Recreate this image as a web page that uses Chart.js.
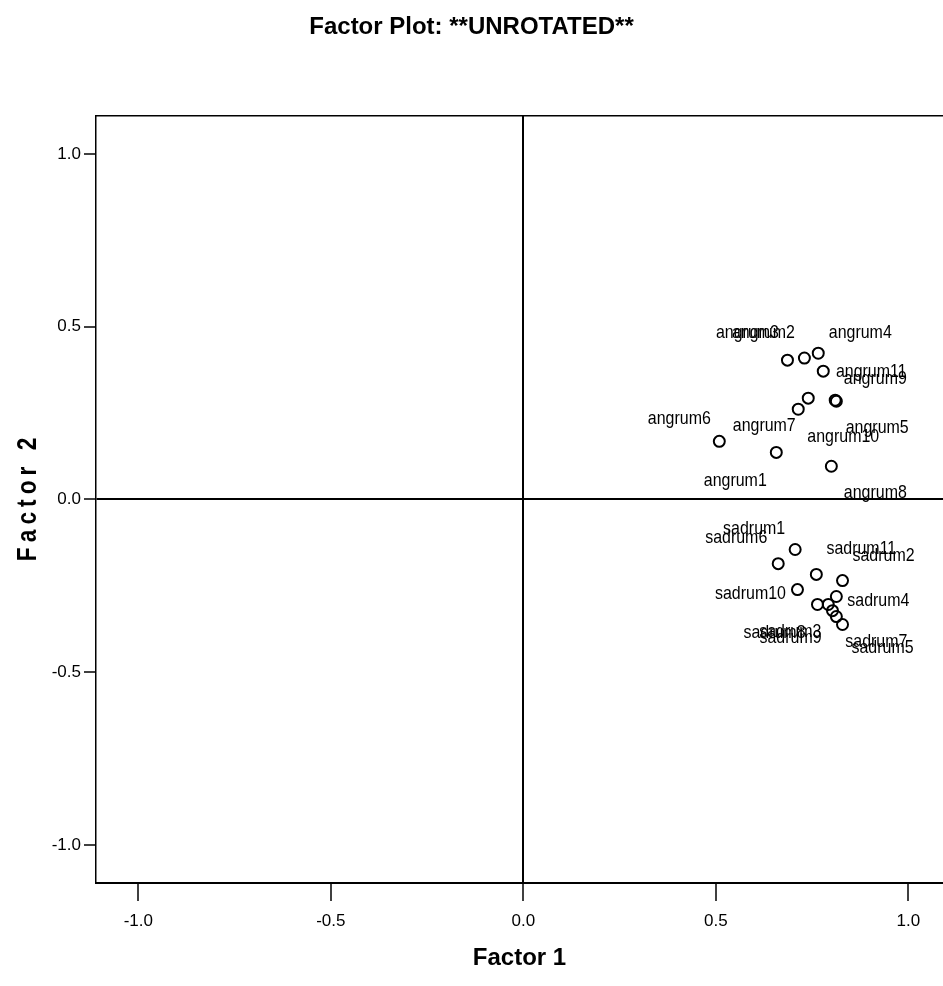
<!DOCTYPE html>
<html>
<head>
<meta charset="utf-8">
<title>Factor Plot</title>
<script src="https://cdn.jsdelivr.net/npm/chart.js@4.4.1/dist/chart.umd.min.js"></script>
<style>
  html, body { margin: 0; padding: 0; background: #ffffff; overflow: hidden; }
  canvas { display: block; }
</style>
</head>
<body>
<canvas id="plot" width="943" height="986"></canvas>
<script>
// Unrotated loadings on the first two factors
const angrumNames = ['angrum1', 'angrum2', 'angrum3', 'angrum4', 'angrum5', 'angrum6',
                     'angrum7', 'angrum8', 'angrum9', 'angrum10', 'angrum11'];
const angrumF1 = [0.657, 0.730, 0.686, 0.766, 0.810, 0.509, 0.740, 0.800, 0.813, 0.714, 0.779];
const angrumF2 = [0.136, 0.409, 0.403, 0.423, 0.287, 0.168, 0.293, 0.096, 0.284, 0.261, 0.371];

const sadrumNames = ['sadrum1', 'sadrum2', 'sadrum3', 'sadrum4', 'sadrum5', 'sadrum6',
                     'sadrum7', 'sadrum8', 'sadrum9', 'sadrum10', 'sadrum11'];
const sadrumF1 = [0.706, 0.829, 0.792, 0.813, 0.829, 0.662, 0.813, 0.764, 0.803, 0.712, 0.761];
const sadrumF2 = [-0.145, -0.235, -0.304, -0.281, -0.362, -0.186, -0.339, -0.304, -0.322, -0.261, -0.217];

const axisTicks = [-1.0, -0.5, 0.0, 0.5, 1.0];

// Where each name sits relative to its marker (pixels, label centre)
const angrumLabelShift = [[-41, 28], [-41, -25], [-40, -27], [42, -20], [42, 28], [-40, -23],
                          [-44, 28], [44, 27], [39, -22], [45, 28], [48, 1]];
const sadrumLabelShift = [[-41, -21], [41, -25], [-38, 27], [42, 4], [40, 23], [-42, -26],
                          [40, 25], [-43, 28], [-42, 27], [-47, 4], [45, -26]];

const FACE = "'Liberation Sans', Arial, sans-serif";
const SQUEEZE = 0.84; // condensed look for hand-placed text

function toPoints(xs, ys) {
  return xs.map((x, i) => ({ x: x, y: ys[i] }));
}

// Writes each variable name next to its marker
const pointLabels = {
  id: 'pointLabels',
  afterDatasetsDraw(chart) {
    const ctx = chart.ctx;
    ctx.save();
    ctx.font = '19px ' + FACE;
    ctx.fillStyle = '#000';
    ctx.textAlign = 'center';
    ctx.textBaseline = 'middle';
    chart.data.datasets.forEach((ds, i) => {
      const meta = chart.getDatasetMeta(i);
      meta.data.forEach((pt, j) => {
        const shift = ds.labelShift[j];
        ctx.save();
        ctx.translate(pt.x + shift[0], pt.y + shift[1]);
        ctx.scale(SQUEEZE, 1);
        ctx.fillText(ds.names[j], 0, 0);
        ctx.restore();
      });
    });
    ctx.restore();
  }
};

// Spaced-out vertical title for the second factor
const sideTitle = {
  id: 'sideTitle',
  afterDraw(chart, args, opts) {
    const { ctx, chartArea } = chart;
    ctx.save();
    ctx.translate(opts.x, (chartArea.top + chartArea.bottom) / 2);
    ctx.rotate(-Math.PI / 2);
    ctx.scale(SQUEEZE, 1);
    ctx.font = opts.font;
    ctx.letterSpacing = opts.spacing + 'px';
    ctx.fillStyle = '#000';
    ctx.textAlign = 'center';
    ctx.textBaseline = 'middle';
    ctx.fillText(opts.text, opts.spacing / 2, 0);
    ctx.restore();
  }
};

const zeroOnly = (c) => (c.tick && c.tick.value === 0 ? '#000' : 'rgba(0,0,0,0)');
const fixedTicks = (scale) => { scale.ticks = axisTicks.map(v => ({ value: v })); };
const tickText = (v) => Number(v).toFixed(1);
const noSidePadding = (s) => { s.paddingLeft = 0; s.paddingRight = 0; };

const markerStyle = {
  showLine: false,
  pointStyle: 'circle',
  pointRadius: 5.5,
  pointHoverRadius: 5.5,
  pointBorderWidth: 2,
  pointBorderColor: '#000',
  pointBackgroundColor: 'rgba(0,0,0,0)',
  borderColor: '#000',
  backgroundColor: 'rgba(0,0,0,0)'
};

new Chart(document.getElementById('plot'), {
  type: 'scatter',
  data: {
    datasets: [
      Object.assign({ label: 'angrum', data: toPoints(angrumF1, angrumF2),
                      names: angrumNames, labelShift: angrumLabelShift }, markerStyle),
      Object.assign({ label: 'sadrum', data: toPoints(sadrumF1, sadrumF2),
                      names: sadrumNames, labelShift: sadrumLabelShift }, markerStyle)
    ]
  },
  options: {
    responsive: false,
    animation: false,
    devicePixelRatio: 1,
    layout: { padding: 0, autoPadding: false },
    scales: {
      x: {
        type: 'linear',
        position: 'bottom',
        min: -1.11,
        max: 1.09,
        afterBuildTicks: fixedTicks,
        afterFit: (s) => { s.height = 103; noSidePadding(s); },
        ticks: {
          callback: tickText,
          font: { family: FACE, size: 17 },
          color: '#000',
          padding: 10,
          maxRotation: 0,
          autoSkip: false
        },
        grid: {
          drawOnChartArea: true,
          color: zeroOnly,
          lineWidth: 2,
          drawTicks: true,
          tickLength: 18,
          tickColor: '#000',
          tickWidth: 1.5
        },
        border: { display: true, color: '#000', width: 2 },
        title: {
          display: true,
          text: 'Factor 1',
          color: '#000',
          font: { family: FACE, size: 24, weight: 'bold' },
          padding: { top: 0, bottom: 13 }
        }
      },
      frameTop: {
        type: 'linear',
        axis: 'x',
        position: 'top',
        min: -1.11,
        max: 1.09,
        ticks: { display: false },
        grid: { display: false },
        border: { display: true, color: '#000', width: 1.5 },
        afterFit: (s) => { s.height = 0; noSidePadding(s); }
      },
      y: {
        type: 'linear',
        position: 'left',
        min: -1.11,
        max: 1.11,
        afterBuildTicks: fixedTicks,
        afterFit: (s) => { s.width = 96; },
        ticks: {
          callback: tickText,
          font: { family: FACE, size: 17 },
          color: '#000',
          padding: 3
        },
        grid: {
          drawOnChartArea: true,
          color: zeroOnly,
          lineWidth: 2,
          drawTicks: true,
          tickLength: 12,
          tickColor: '#000',
          tickWidth: 1.5
        },
        border: { display: true, color: '#000', width: 1.5 },
        title: { display: false }
      }
    },
    plugins: {
      legend: { display: false },
      tooltip: { enabled: false },
      title: {
        display: true,
        text: 'Factor Plot: **UNROTATED**',
        color: '#000',
        font: { family: FACE, size: 24, weight: 'bold' },
        padding: { top: 13, bottom: 74 }
      },
      sideTitle: {
        text: 'Factor 2',
        x: 29,
        font: 'bold 27px ' + FACE,
        spacing: 6
      }
    }
  },
  plugins: [pointLabels, sideTitle]
});
</script>
</body>
</html>
